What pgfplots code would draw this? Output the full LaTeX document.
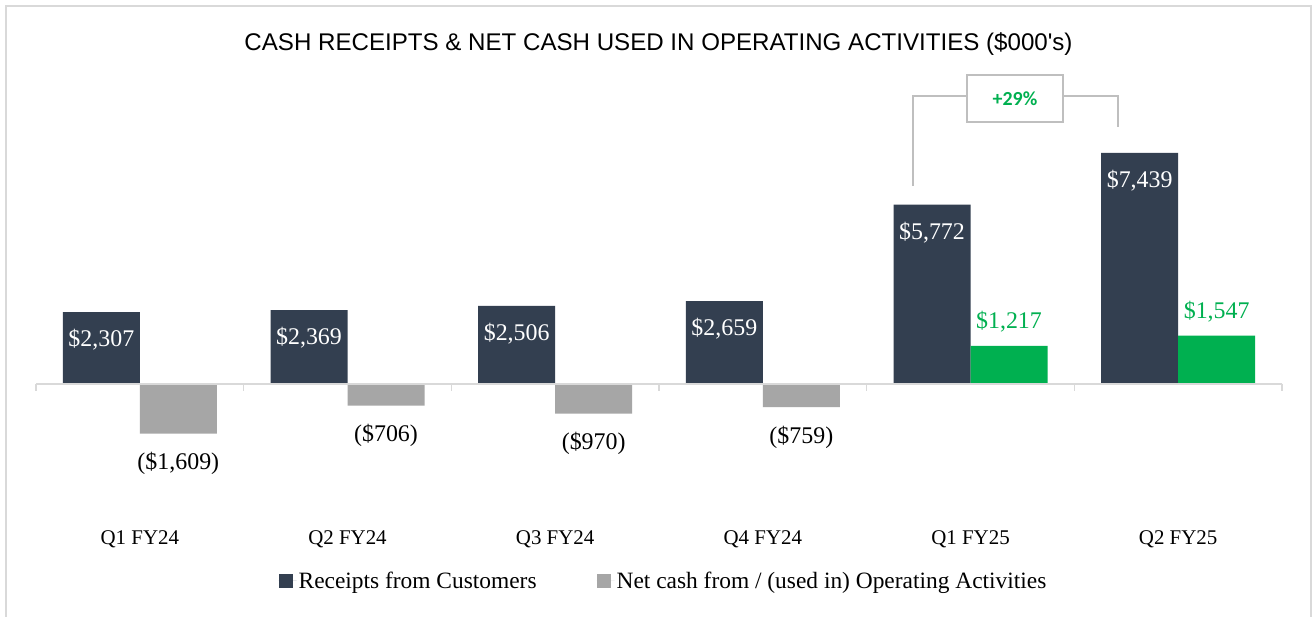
\documentclass[border=0pt]{standalone}
\usepackage{fontspec}
\setmainfont{Liberation Serif}
\newfontfamily\titlefont{Liberation Sans}
\newfontfamily\calfont{Carlito}
\usepackage{pgfplots}
\usepackage{pgfplotstable}
\pgfplotsset{compat=1.18}
\definecolor{navy}{HTML}{333F50}
\definecolor{gbar}{HTML}{A6A6A6}
\definecolor{grn}{HTML}{00B050}
\definecolor{framec}{HTML}{D9D9D9}
\definecolor{brk}{HTML}{BFBFBF}

\pgfplotstableread{
x y label
0.5 2307 {\$2,307}
1.5 2369 {\$2,369}
2.5 2506 {\$2,506}
3.5 2659 {\$2,659}
4.5 5772 {\$5,772}
5.5 7439 {\$7,439}
}\receipts

\pgfplotstableread{
x y label
0.5 -1609 {(\$1,609)}
1.5 -706 {(\$706)}
2.5 -970 {(\$970)}
3.5 -759 {(\$759)}
}\netneg

\pgfplotstableread{
x y label
4.5 1217 {\$1,217}
5.5 1547 {\$1,547}
}\netpos

\begin{document}
\begin{tikzpicture}
\useasboundingbox (0,0) rectangle (1313bp,617bp);
\fill[white] (0,0) rectangle (1313bp,617bp);
\draw[framec, line width=1.5bp] (6bp,0) -- (6bp,611bp) -- (1311bp,611bp) -- (1311bp,0);
\node[font=\titlefont\fontsize{24.2}{28}\selectfont, anchor=base] at (658.5bp,566bp) {CASH RECEIPTS \& NET CASH USED IN OPERATING ACTIVITIES (\$000\textquotesingle s)};
\begin{axis}[
 at={(36bp,95bp)}, anchor=south west,
 scale only axis, x=207.67bp, y=0.03103bp,
 xmin=0, xmax=6, ymin=-4460, ymax=10000,
 axis line style={draw=none}, ytick=\empty,
 xtick={0.5,1.5,2.5,3.5,4.5,5.5},
 xticklabels={Q1 FY24,Q2 FY24,Q3 FY24,Q4 FY24,Q1 FY25,Q2 FY25},
 major tick length=0pt,
 xticklabel style={font=\fontsize{21}{21}\selectfont, anchor=center, yshift=-17bp},
 clip=false,
 legend columns=2,
 legend style={draw=none, fill=none, at={(0.5036,-0.1315)}, anchor=center,
   font=\fontsize{23.5}{23.5}\selectfont,
   /tikz/every even column/.append style={column sep=58bp}},
 legend image code/.code={\fill[#1] (0bp,-7bp) rectangle (14bp,7bp); \path (0bp,0bp) -- (18bp,0bp);},
]
\addplot[ybar, bar width=77bp, bar shift=-38.5bp, fill=navy, draw=none,
  nodes near coords, point meta=explicit symbolic,
  every node near coord/.append style={font=\fontsize{24}{24}\selectfont, text=white, anchor=center, xshift=-38.5bp, yshift=-28bp}]
  table[x=x,y=y,meta=label]{\receipts};
\addlegendentry{Receipts from Customers}
\addplot[ybar, bar width=77bp, bar shift=38.5bp, fill=gbar, draw=none,
  nodes near coords, point meta=explicit symbolic,
  every node near coord/.append style={font=\fontsize{24}{24}\selectfont, text=black, anchor=center, xshift=38.5bp, yshift=-30bp}]
  table[x=x,y=y,meta=label]{\netneg};
\addlegendentry{Net cash from / (used in) Operating Activities}
\addplot[ybar, bar width=77bp, bar shift=38.5bp, fill=grn, draw=none, forget plot,
  nodes near coords, point meta=explicit symbolic,
  every node near coord/.append style={font=\fontsize{24}{24}\selectfont, text=grn, anchor=center, xshift=38.5bp, yshift=24bp}]
  table[x=x,y=y,meta=label]{\netpos};
\draw[framec, line width=2bp] (axis cs:0,0) -- (axis cs:6,0);
\pgfplotsinvokeforeach{0,1,2,3,4,5,6}{\draw[framec, line width=1.5bp] (axis cs:#1,0) -- ([yshift=-7bp]axis cs:#1,0);}
\end{axis}
\draw[brk, line width=1.3bp] (913bp,431bp) -- (913bp,521bp) -- (967bp,521bp);
\draw[brk, line width=1.3bp] (1063bp,521bp) -- (1118bp,521bp) -- (1118bp,490bp);
\draw[brk, line width=1.3bp, fill=white] (967bp,495bp) rectangle (1063bp,542bp);
\node[font=\calfont\bfseries\fontsize{20}{20}\selectfont, text=grn] at (1015bp,518.5bp) {+29\%};
\end{tikzpicture}
\end{document}
